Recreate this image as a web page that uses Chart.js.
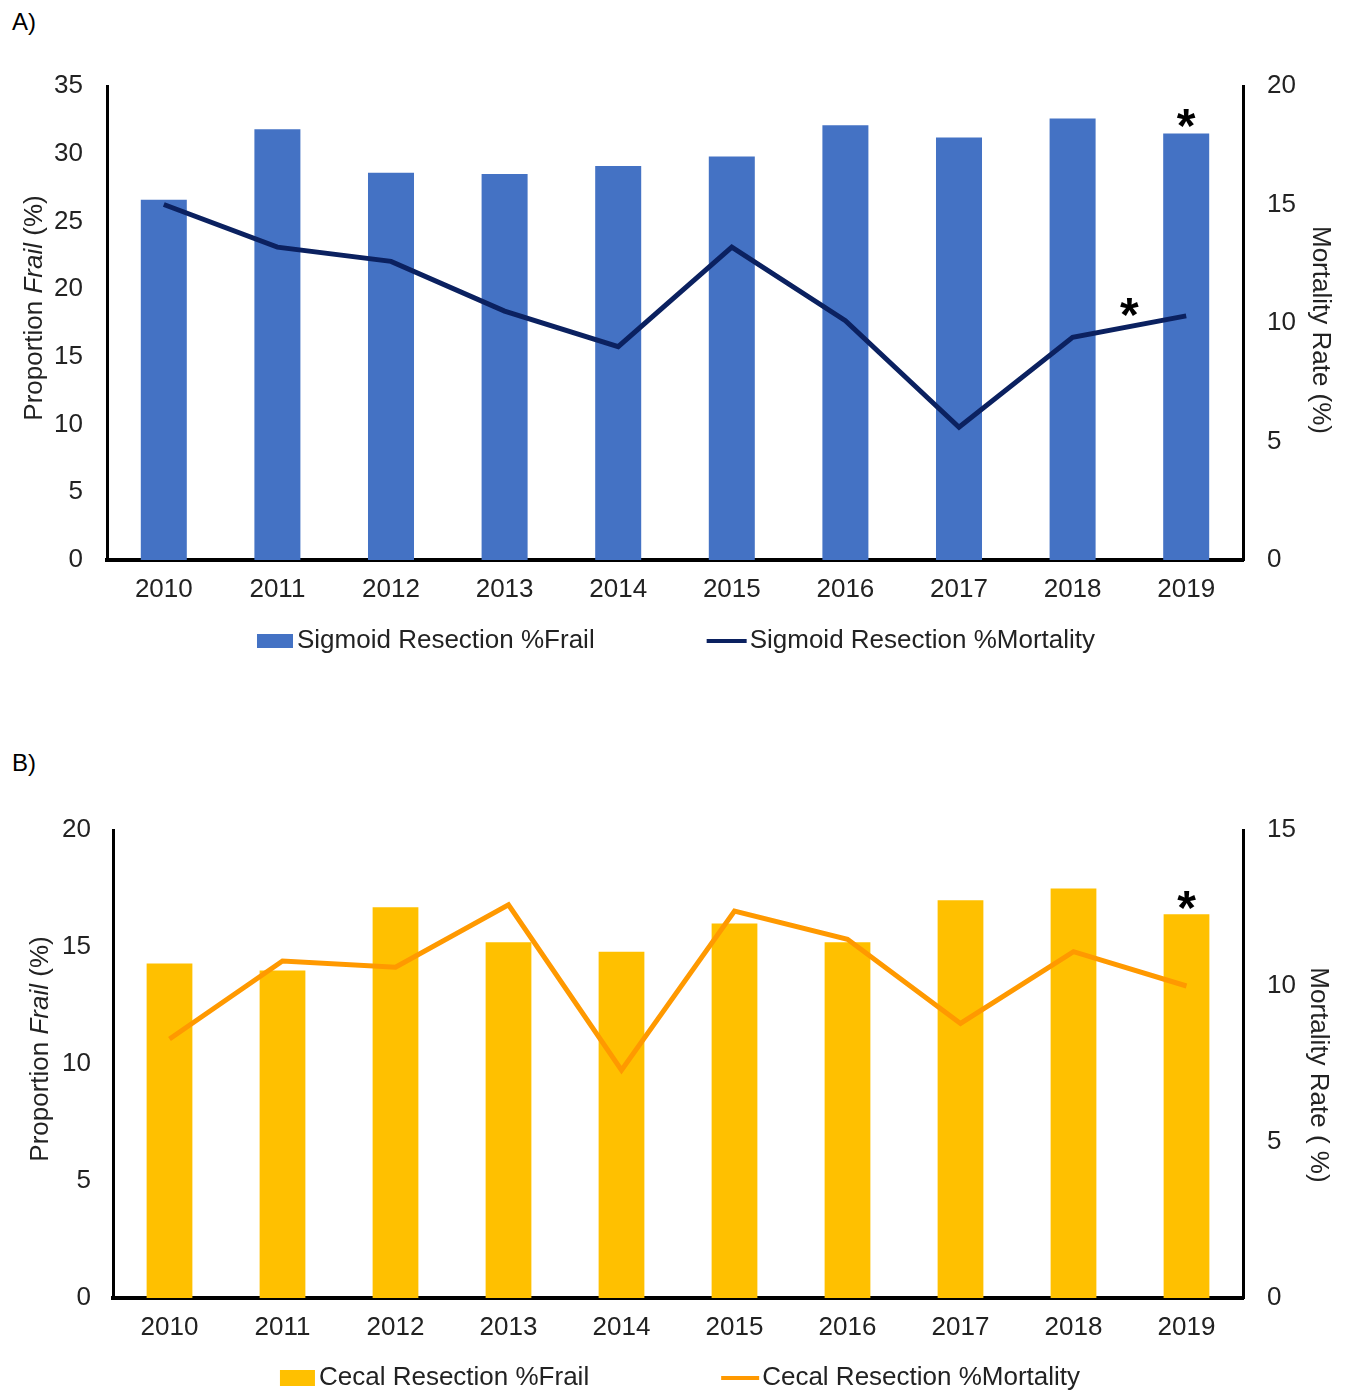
<!DOCTYPE html>
<html>
<head>
<meta charset="utf-8">
<script src="https://cdn.jsdelivr.net/npm/chart.js@4.4.1/dist/chart.umd.min.js"></script>
<style>
body { margin: 0; background: #fff; font-family: "Liberation Sans", Arial, sans-serif; }
#page { position: relative; width: 1345px; height: 1390px; overflow: hidden; }
.tag { position: absolute; left: 12px; font-size: 24px; color: #000; line-height: 28px; }
.box { position: absolute; left: 0; width: 1345px; }
</style>
</head>
<body>
<div id="page">
  <div class="tag" style="top:8px">A)</div>
  <div class="tag" style="top:749px">B)</div>
  <div class="box" style="top:0;height:700px"><canvas id="chartA" width="1345" height="700"></canvas></div>
  <div class="box" style="top:700px;height:690px"><canvas id="chartB" width="1345" height="690"></canvas></div>
</div>
<script>
// data
var years = ['2010', '2011', '2012', '2013', '2014', '2015', '2016', '2017', '2018', '2019'];

var sigmoidFrail = [26.6, 31.8, 28.6, 28.5, 29.1, 29.8, 32.1, 31.2, 32.6, 31.5];
var sigmoidMortality = [15.0, 13.2, 12.6, 10.5, 9.0, 13.2, 10.1, 5.6, 9.4, 10.3];
var cecalFrail = [14.3, 14.0, 16.7, 15.2, 14.8, 16.0, 15.2, 17.0, 17.5, 16.4];
var cecalMortality = [8.3, 10.8, 10.6, 12.6, 7.3, 12.4, 11.5, 8.8, 11.1, 10.0];

var frailTicksA = [0, 5, 10, 15, 20, 25, 30, 35];
var mortalityTicksA = [0, 5, 10, 15, 20];
var frailTicksB = [0, 5, 10, 15, 20];
var mortalityTicksB = [0, 5, 10, 15];

var FONT = '"Liberation Sans", Arial, sans-serif';
var TEXT = '#222222';
var SIZE = 26;

Chart.defaults.font.family = FONT;
Chart.defaults.color = TEXT;

// draws a rotated title made of pieces (some italic), centred on (x, y)
function drawTitle(ctx, parts, x, y, angle) {
    var total = 0;
    parts.forEach(function (p) {
        ctx.font = (p.italic ? 'italic ' : '') + SIZE + 'px ' + FONT;
        p.w = ctx.measureText(p.text).width;
        total += p.w;
    });
    ctx.save();
    ctx.translate(x, y);
    ctx.rotate(angle);
    ctx.textBaseline = 'middle';
    ctx.textAlign = 'left';
    var px = -total / 2;
    parts.forEach(function (p) {
        ctx.font = (p.italic ? 'italic ' : '') + SIZE + 'px ' + FONT;
        ctx.fillText(p.text, px, 0);
        px += p.w;
    });
    ctx.restore();
}

var extras = {
    id: 'extras',
    afterDraw: function (chart, args, opts) {
        var ctx = chart.ctx;
        var area = chart.chartArea;
        var midY = (area.top + area.bottom) / 2;
        ctx.save();
        ctx.fillStyle = TEXT;

        drawTitle(ctx, opts.leftTitle, area.left - 72, midY - 15, -Math.PI / 2);
        drawTitle(ctx, opts.rightTitle, area.right + opts.rightX, midY + opts.rightShift, Math.PI / 2);

        // significance stars
        var size = 48;
        ctx.font = 'bold ' + size + 'px ' + FONT;
        ctx.textAlign = 'center';
        ctx.textBaseline = 'alphabetic';
        ctx.fillStyle = '#000';
        opts.stars.forEach(function (s) {
            var pts = chart.getDatasetMeta(s.dataset).data;
            var x, y;
            if (s.between) {
                x = (pts[s.between[0]].x + pts[s.between[1]].x) / 2;
                y = (pts[s.between[0]].y + pts[s.between[1]].y) / 2;
            } else {
                x = pts[s.index].x;
                y = pts[s.index].y;
            }
            ctx.fillText('*', x, y + s.dy + 0.575 * size);
        });

        // legend
        var lg = opts.legend;
        var ds = chart.data.datasets;
        ctx.font = SIZE + 'px ' + FONT;
        var w1 = ctx.measureText(ds[0].label).width;
        var w2 = ctx.measureText(ds[1].label).width;
        var total = lg.boxW + 4 + w1 + lg.gap + lg.lineW + 3 + w2;
        var x0 = (area.left + area.right) / 2 + lg.shift - total / 2;
        var ly = area.bottom + lg.y;
        ctx.fillStyle = ds[0].backgroundColor;
        ctx.fillRect(x0, ly - lg.boxH / 2, lg.boxW, lg.boxH);
        ctx.fillStyle = TEXT;
        ctx.textAlign = 'left';
        ctx.textBaseline = 'middle';
        ctx.fillText(ds[0].label, x0 + lg.boxW + 4, ly);
        var x1 = x0 + lg.boxW + 4 + w1 + lg.gap;
        ctx.strokeStyle = ds[1].borderColor;
        ctx.lineWidth = 4;
        ctx.beginPath();
        ctx.moveTo(x1, ly);
        ctx.lineTo(x1 + lg.lineW, ly);
        ctx.stroke();
        ctx.fillText(ds[1].label, x1 + lg.lineW + 3, ly);
        ctx.restore();
    }
};

function makeChart(id, cfg) {
    return new Chart(document.getElementById(id), {
        type: 'bar',
        data: {
            labels: years,
            datasets: [{
                type: 'bar',
                label: cfg.barLabel,
                data: cfg.bars,
                backgroundColor: cfg.barColor,
                yAxisID: 'y',
                barPercentage: 0.405,
                categoryPercentage: 1,
                order: 2
            }, {
                type: 'line',
                label: cfg.lineLabel,
                data: cfg.line,
                borderColor: cfg.lineColor,
                borderWidth: 5,
                pointRadius: 0,
                tension: 0,
                fill: false,
                yAxisID: 'y2',
                order: 1
            }]
        },
        options: {
            responsive: false,
            animation: false,
            layout: { padding: { top: cfg.top, left: 0, right: 0, bottom: 0 } },
            plugins: {
                legend: { display: false },
                tooltip: { enabled: false },
                extras: cfg.extras
            },
            scales: {
                x: {
                    grid: { display: false, drawTicks: false },
                    border: { display: true, color: '#000', width: 4 },
                    ticks: { font: { size: SIZE }, color: TEXT, padding: 14, maxRotation: 0, autoSkip: false },
                    afterFit: function (s) { s.height = cfg.xHeight; }
                },
                y: {
                    position: 'left',
                    min: 0,
                    max: cfg.leftTicks[cfg.leftTicks.length - 1],
                    grid: { display: false, drawTicks: false },
                    border: { display: true, color: '#000', width: 3 },
                    ticks: { font: { size: SIZE }, color: TEXT, padding: cfg.leftPad },
                    afterBuildTicks: function (s) { s.ticks = cfg.leftTicks.map(function (v) { return { value: v }; }); },
                    afterFit: function (s) { s.width = cfg.leftWidth; }
                },
                y2: {
                    position: 'right',
                    min: 0,
                    max: cfg.rightTicks[cfg.rightTicks.length - 1],
                    grid: { display: false, drawTicks: false },
                    border: { display: true, color: '#000', width: 3 },
                    ticks: { font: { size: SIZE }, color: TEXT, padding: 24 },
                    afterBuildTicks: function (s) { s.ticks = cfg.rightTicks.map(function (v) { return { value: v }; }); },
                    afterFit: function (s) { s.width = 102; }
                }
            }
        },
        plugins: [extras]
    });
}

makeChart('chartA', {
    barLabel: 'Sigmoid Resection %Frail',
    lineLabel: 'Sigmoid Resection %Mortality',
    bars: sigmoidFrail,
    line: sigmoidMortality,
    barColor: '#4472C4',
    lineColor: '#0B2160',
    leftTicks: frailTicksA,
    rightTicks: mortalityTicksA,
    top: 86,
    xHeight: 140,
    leftWidth: 107,
    leftPad: 24,
    extras: {
        leftTitle: [{ text: 'Proportion ' }, { text: 'Frail', italic: true }, { text: ' (%)' }],
        rightTitle: [{ text: 'Mortality Rate (%)' }],
        rightX: 77,
        rightShift: 7,
        stars: [{ dataset: 0, index: 9, dy: -19 }, { dataset: 1, between: [8, 9], dy: -23 }],
        legend: { y: 81, gap: 112, boxW: 36, boxH: 14, lineW: 40, shift: 1 }
    }
});

makeChart('chartB', {
    barLabel: 'Cecal Resection %Frail',
    lineLabel: 'Cecal Resection %Mortality',
    bars: cecalFrail,
    line: cecalMortality,
    barColor: '#FFC000',
    lineColor: '#FF9900',
    leftTicks: frailTicksB,
    rightTicks: mortalityTicksB,
    top: 130,
    xHeight: 92,
    leftWidth: 113,
    leftPad: 22,
    extras: {
        leftTitle: [{ text: 'Proportion ' }, { text: 'Frail', italic: true }, { text: ' (%)' }],
        rightTitle: [{ text: 'Mortality Rate ( %)' }],
        rightX: 75,
        rightShift: 11,
        stars: [{ dataset: 0, index: 9, dy: -18 }],
        legend: { y: 80, gap: 132, boxW: 35, boxH: 16, lineW: 38, shift: 2 }
    }
});
</script>
</body>
</html>
